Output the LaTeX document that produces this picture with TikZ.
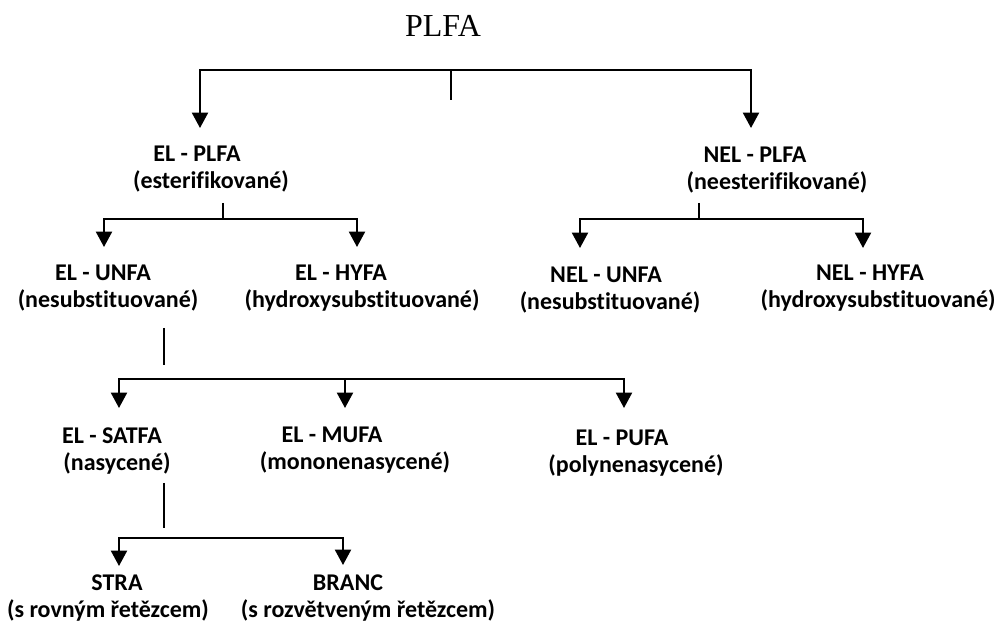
\documentclass[tikz,border=0pt]{standalone}
\usepackage{fontspec}
\usetikzlibrary{arrows.meta}
\newfontfamily\carlito[Ligatures=NoCommon]{Carlito}
\newfontfamily\timesf{Liberation Serif}
\newcommand\lineoff[2]{\hbox{\kern\dimexpr #1pt*3/4\relax #2\kern-\dimexpr #1pt*3/4\relax}}
\tikzset{
  lbl/.style={anchor=north, inner sep=0pt, align=center,
    font=\carlito\bfseries\fontsize{18}{20.3}\selectfont},
  ttl/.style={anchor=north, inner sep=0pt, font=\timesf\fontsize{24}{28}\selectfont},
  conn/.style={line width=1.5pt, black},
  arr/.style={conn, -{Triangle[length=11.5pt, width=12pt]}},
}
\begin{document}
\begin{tikzpicture}[x=0.75pt, y=-0.75pt]
\useasboundingbox (0,0) rectangle (997,623);

\node[ttl] (title) at (443,15) {PLFA};

\node[lbl] (elplfa)  at (211,146) {\lineoff{-14}{EL - PLFA}\\(esterifikované)};
\node[lbl] (nelplfa) at (777,147) {\lineoff{-22}{NEL - PLFA}\\(neesterifikované)};

\node[lbl] (elunfa)  at (108,265) {\lineoff{-5}{EL - UNFA}\\(nesubstituované)};
\node[lbl] (elhyfa)  at (362,265) {\lineoff{-21}{EL - HYFA}\\(hydroxysubstituované)};
\node[lbl] (nelunfa) at (610,267) {\lineoff{-4}{NEL - UNFA}\\(nesubstituované)};
\node[lbl] (nelhyfa) at (878,265) {\lineoff{-8}{NEL - HYFA}\\(hydroxysubstituované)};

\node[lbl] (satfa) at (117,427) {\lineoff{-5}{EL - SATFA}\\(nasycené)};
\node[lbl] (mufa)  at (355,427) {\lineoff{-23}{EL - MUFA}\\(mononenasycené)};
\node[lbl] (pufa)  at (636,430) {\lineoff{-14}{EL - PUFA}\\(polynenasycené)};

\node[lbl] (stra)  at (108,574) {\lineoff{9}{STRA}\\(s rovným řetězcem)};
\node[lbl] (branc) at (368,574) {\lineoff{-20}{BRANC}\\(s rozvětveným řetězcem)};

% level 1
\coordinate (j0) at ([shift={(8,55)}]title.north);
\draw[conn] ([shift={(8,85)}]title.north) -- (j0);
\draw[arr] (j0) -| ([shift={(-11,-18)}]elplfa.north);
\draw[arr] (j0) -| ([shift={(-26,-19)}]nelplfa.north);

% EL - PLFA
\coordinate (j1) at ([shift={(12,73)}]elplfa.north);
\draw[conn] ([shift={(12,57)}]elplfa.north) -- (j1);
\draw[arr] (j1) -| ([shift={(-4,-18)}]elunfa.north);
\draw[arr] (j1) -| ([shift={(-5,-18)}]elhyfa.north);

% NEL - PLFA
\coordinate (j2) at ([shift={(-78,72)}]nelplfa.north);
\draw[conn] ([shift={(-78,56)}]nelplfa.north) -- (j2);
\draw[arr] (j2) -| ([shift={(-30,-19)}]nelunfa.north);
\draw[arr] (j2) -| ([shift={(-15,-17)}]nelhyfa.north);

% EL - UNFA
\draw[conn] ([shift={(56,63)}]elunfa.north) -- ([shift={(56,100)}]elunfa.north);
\coordinate (j3) at ([shift={(56,114)}]elunfa.north);
\coordinate (t3m) at ([shift={(-10,-19)}]mufa.north);
\draw[arr] (j3) -| ([shift={(2,-19)}]satfa.north);
\draw[arr] (j3) -| ([shift={(-12,-22)}]pufa.north);
\draw[arr] (j3 -| t3m) -- (t3m);

% EL - SATFA
\draw[conn] ([shift={(47,56)}]satfa.north) -- ([shift={(47,101)}]satfa.north);
\coordinate (j4) at ([shift={(47,111)}]satfa.north);
\draw[arr] (j4) -| ([shift={(11,-8)}]stra.north);
\draw[arr] (j4) -| ([shift={(-25,-9)}]branc.north);
\end{tikzpicture}
\end{document}
